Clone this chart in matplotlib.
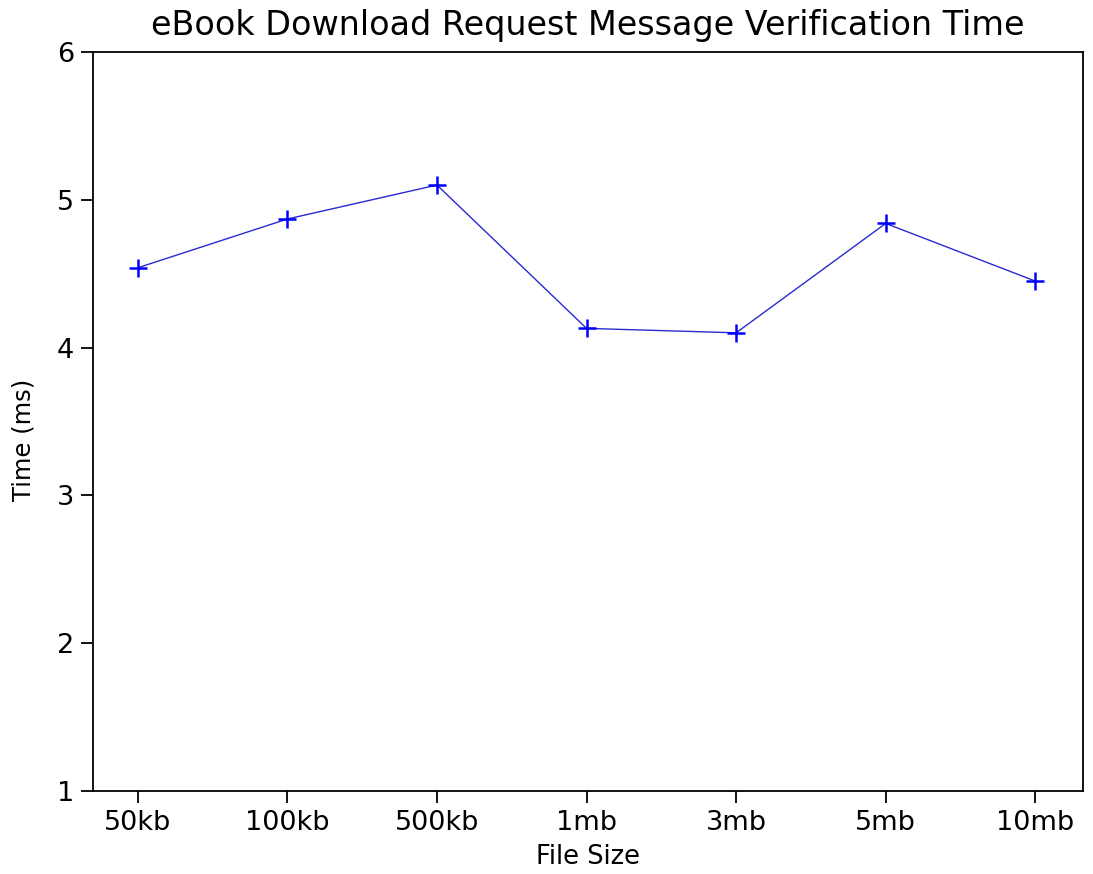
from matplotlib import pyplot as plt
import numpy as np

sizes = ['50kb', '100kb', '500kb', '1mb', '3mb', '5mb', '10mb']
times = [4.54, 4.87, 5.10, 4.13, 4.10, 4.84, 4.45]

fig = plt.figure(figsize=(10.93, 8.74), dpi=100)
ax = fig.add_axes([0.085, 0.095, 0.906, 0.8455])

x = np.arange(len(sizes))
ax.plot(x, times, color='#2a2ad0', linewidth=1.0, marker='+',
        markersize=13, markeredgewidth=1.8, markeredgecolor='blue')

ax.set_xticks(x)
ax.set_xticklabels(sizes)
ax.set_xlim(-0.3, 6.32)
ax.set_ylim(1, 6)
ax.set_yticks([1, 2, 3, 4, 5, 6])
ax.tick_params(labelsize=19.5, length=8.5, width=1.3, pad=5)
for s in ax.spines.values():
    s.set_linewidth(1.3)

ax.set_xlabel('File Size', fontsize=18.5, labelpad=6)
ax.set_ylabel('Time (ms)', fontsize=17.5)
ax.yaxis.set_label_coords(-0.058, 0.475)
ax.set_title('eBook Download Request Message Verification Time', fontsize=24, pad=12)

plt.savefig('out.png', dpi=100)
